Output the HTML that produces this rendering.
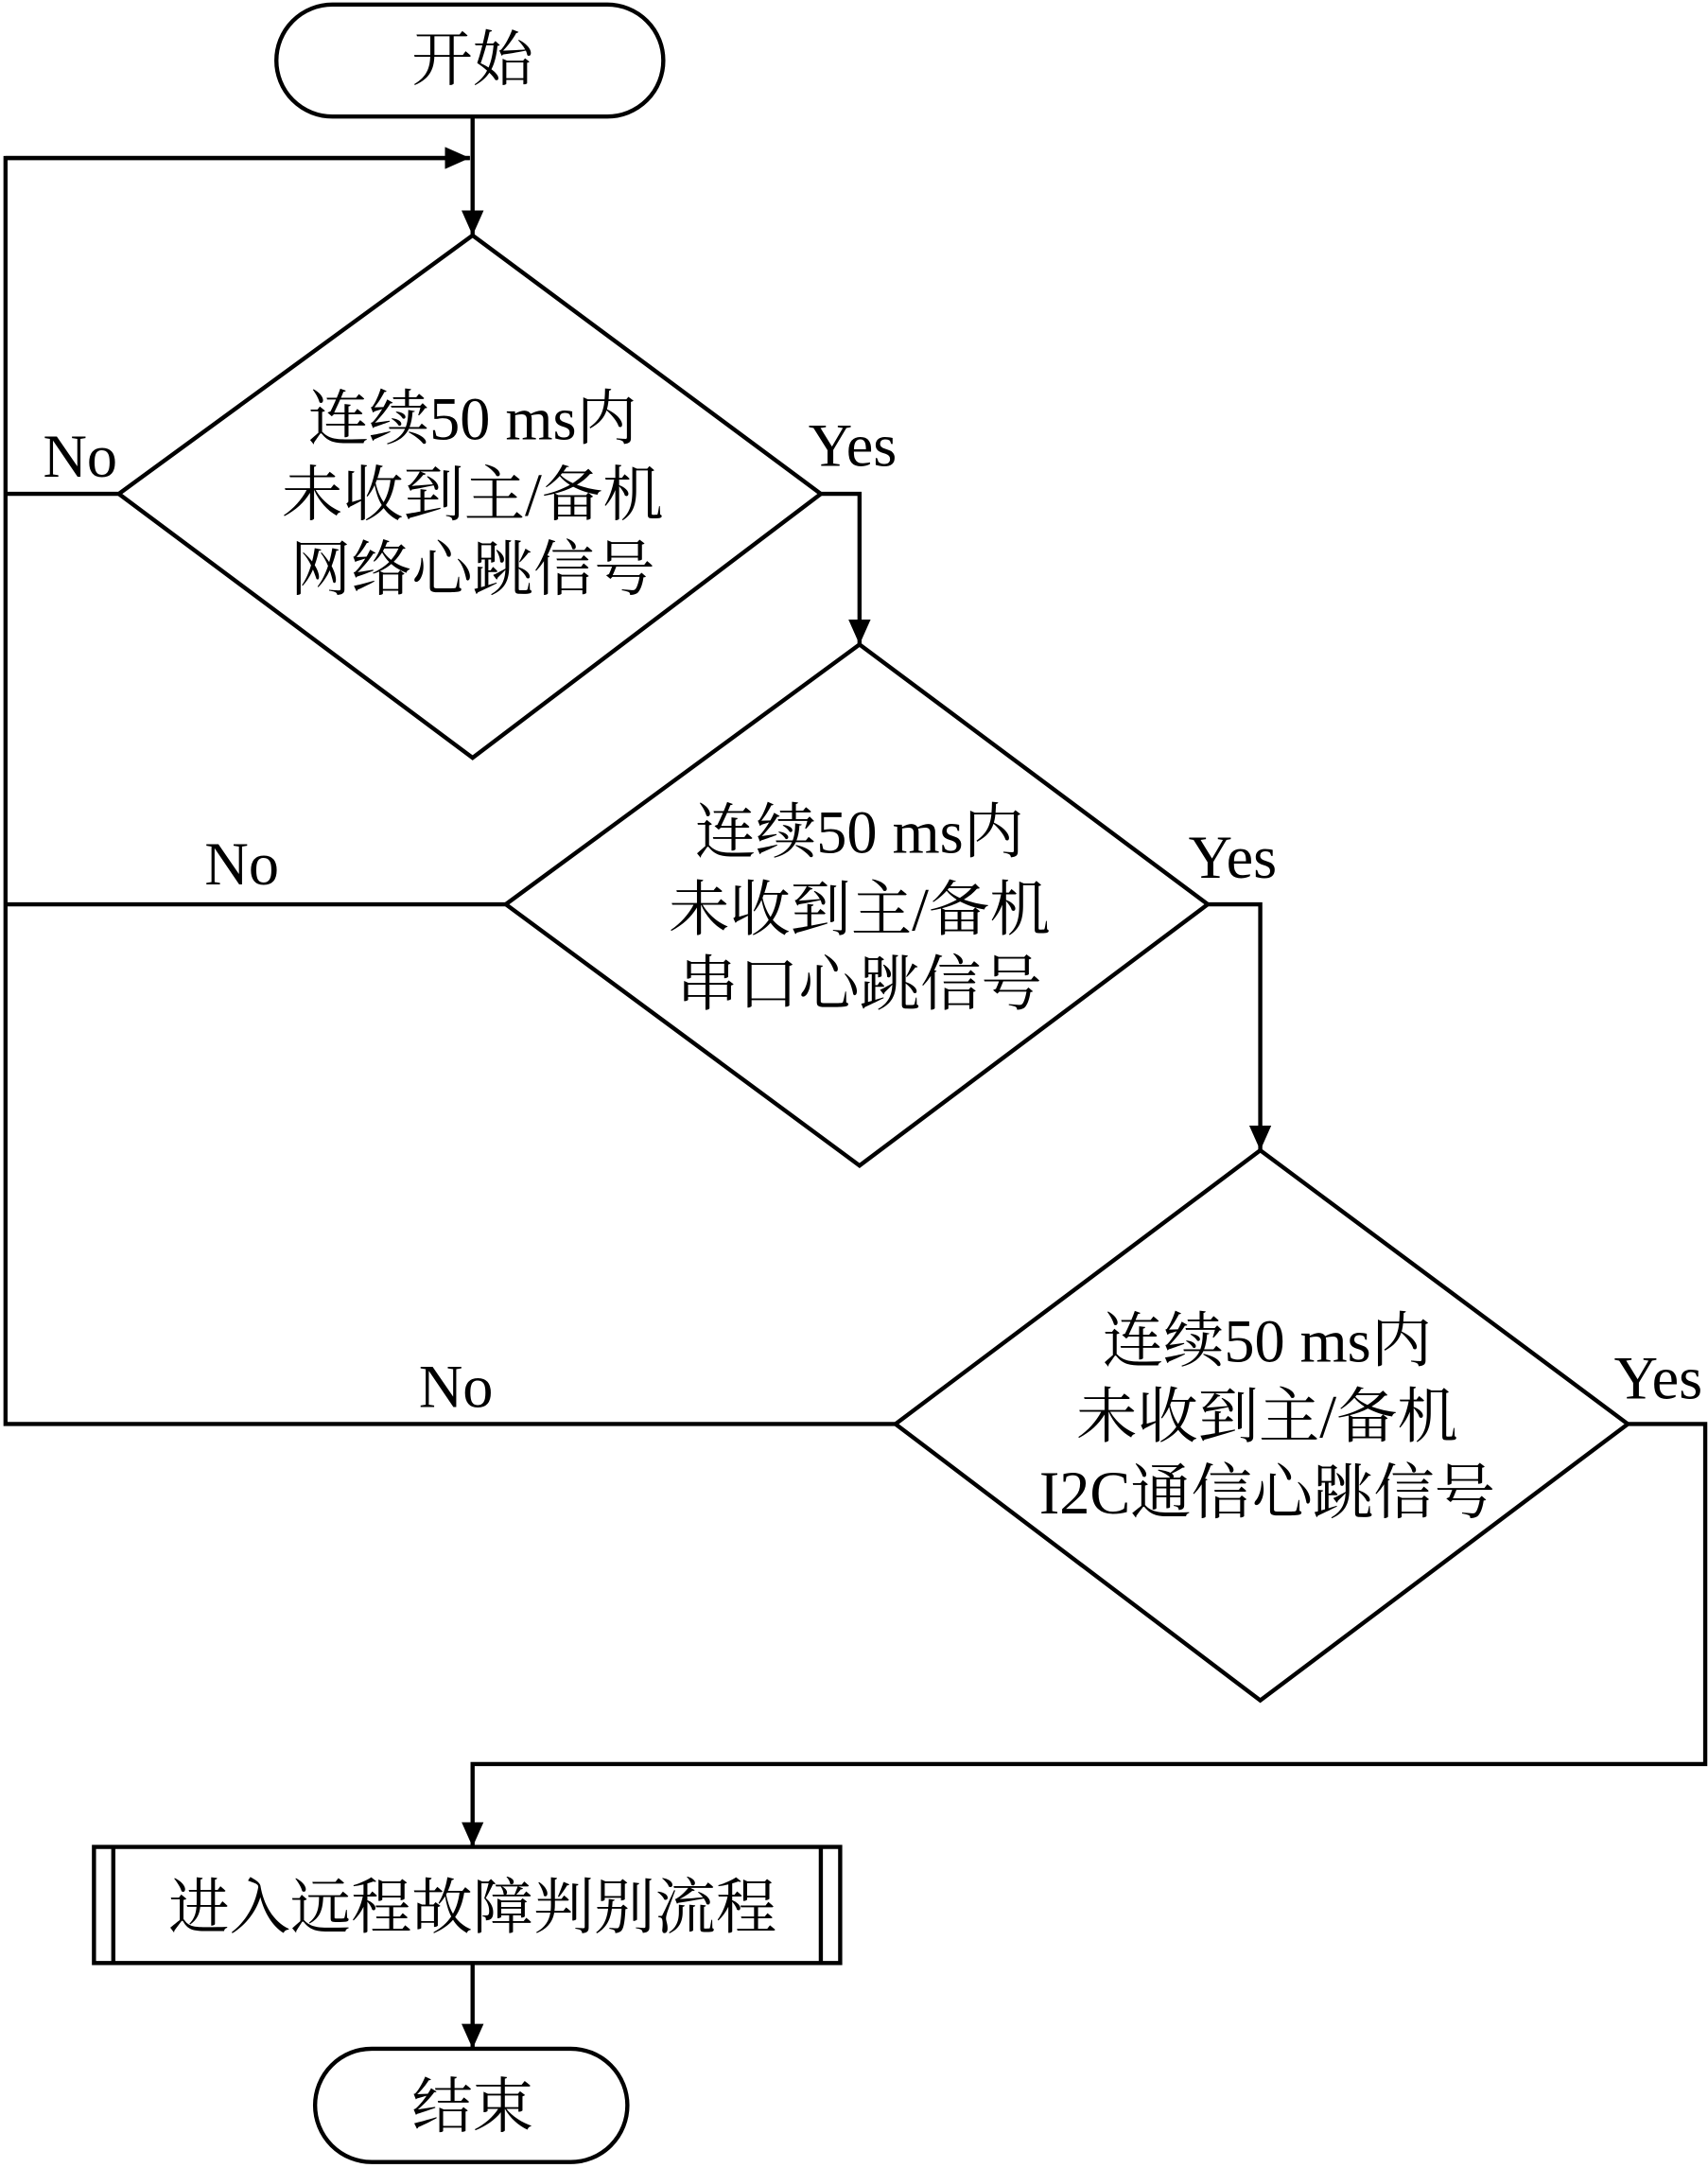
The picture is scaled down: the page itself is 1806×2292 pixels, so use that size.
<!DOCTYPE html>
<html><head><meta charset="utf-8"><style>
html,body{margin:0;padding:0;background:#fff;}
svg{display:block;}
text{font-family:"Liberation Serif","Noto Serif CJK SC",serif;font-size:44px;fill:#000;text-anchor:middle;dominant-baseline:central;}
</style></head><body>
<svg width="1806" height="2292" viewBox="0 0 1236 1568" xmlns="http://www.w3.org/2000/svg">
<defs>
<marker id="b" markerWidth="18" markerHeight="16" refX="18" refY="8" orient="auto" markerUnits="userSpaceOnUse"><path d="M0,0 L18,8 L0,16 z" fill="#000"/></marker></defs>
<g fill="none" stroke="#000" stroke-width="3">
<rect x="200" y="3" width="280" height="81" rx="40.5"/>
<line x1="342" y1="84" x2="342" y2="170" marker-end="url(#b)"/>
<polyline points="86,357 4,357"/>
<polyline points="340,114 4,114 4,1030 648,1030"/>
<line x1="4" y1="114" x2="340" y2="114" marker-end="url(#b)"/>
<polygon points="342,170 594,357 342,548 86,357"/>
<polyline points="594,357 622,357 622,466" marker-end="url(#b)"/>
<polygon points="622,466 874,654 622,843 366,654"/>
<line x1="366" y1="654" x2="4" y2="654"/>
<polyline points="874,654 912,654 912,832" marker-end="url(#b)"/>
<polygon points="912,832 1178,1030 912,1230 648,1030"/>
<polyline points="1178,1030 1234,1030 1234,1276 342,1276 342,1336" marker-end="url(#b)"/>
<rect x="68" y="1336" width="540" height="84"/>
<line x1="82" y1="1336" x2="82" y2="1420"/>
<line x1="594" y1="1336" x2="594" y2="1420"/>
<line x1="342" y1="1420" x2="342" y2="1482" marker-end="url(#b)"/>
<rect x="228" y="1482" width="226" height="82" rx="41"/>
</g>
<text x="342" y="43">开始</text>
<text x="342" y="303">连续50 ms内</text>
<text x="342" y="358">未收到主/备机</text>
<text x="342" y="412">网络心跳信号</text>
<text x="58" y="330">No</text>
<text x="617" y="322">Yes</text>
<text x="622" y="602">连续50 ms内</text>
<text x="622" y="658">未收到主/备机</text>
<text x="622" y="712">串口心跳信号</text>
<text x="175" y="625">No</text>
<text x="892" y="620">Yes</text>
<text x="917" y="970">连续50 ms内</text>
<text x="917" y="1025">未收到主/备机</text>
<text x="917" y="1080">I2C通信心跳信号</text>
<text x="330" y="1003">No</text>
<text x="1200" y="997">Yes</text>
<text x="342" y="1380">进入远程故障判别流程</text>
<text x="342" y="1524">结束</text>
</svg>
</body></html>
